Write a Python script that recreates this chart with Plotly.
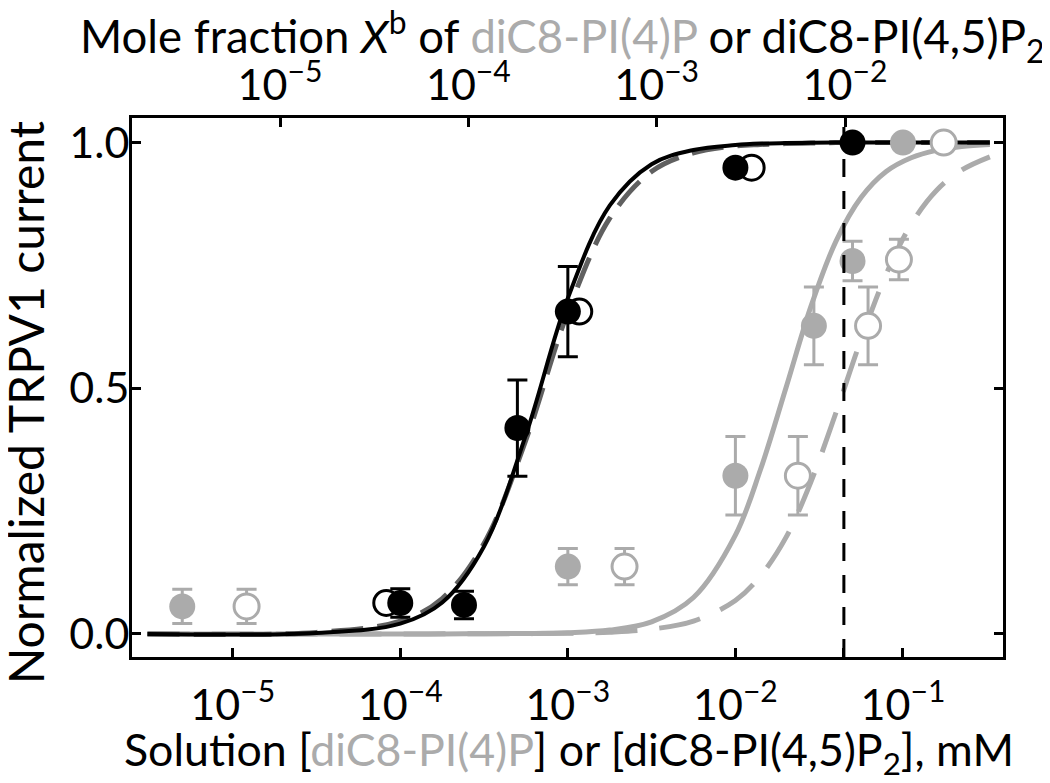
import plotly.graph_objects as go

# fitted curves (solution concentration in mM)
curve_x = [3.1e-6, 3.16e-5, 1e-4, 1.78e-4, 3.16e-4, 5.62e-4, 1e-3, 1.78e-3, 3.16e-3,
           5.62e-3, 1e-2, 1.41e-2, 2e-2, 2.82e-2, 3.98e-2, 5.62e-2, 7.94e-2, 0.112,
           0.158, 0.224, 0.33]
pip2_fit = [0.0, 0.002, 0.021, 0.064, 0.178, 0.405, 0.683, 0.872, 0.956, 0.985, 0.995,
            0.998, 0.999, 0.9995, 1.0, 1.0, 1.0, 1.0, 1.0, 1.0, 1.0]
pip2_fit_mf = [0.0, 0.003, 0.026, 0.072, 0.184, 0.395, 0.655, 0.846, 0.941, 0.979, 0.993,
               0.996, 0.998, 0.999, 1.0, 1.0, 1.0, 1.0, 1.0, 1.0, 1.0]
pi4p_fit = [0.0, 0.0, 0.0, 0.0, 0.0003, 0.0008, 0.0025, 0.0079, 0.0245, 0.074, 0.201,
            0.334, 0.5, 0.666, 0.799, 0.888, 0.941, 0.969, 0.984, 0.992, 0.996]
pi4p_fit_mf = [0.0, 0.0, 0.0, 0.0001, 0.0002, 0.0005, 0.0013, 0.0035, 0.0097, 0.026,
               0.068, 0.118, 0.196, 0.309, 0.45, 0.599, 0.732, 0.834, 0.902, 0.944, 0.971]

# data points
pip2_x = [1e-4, 2.4e-4, 5e-4, 1e-3, 1e-2, 0.05]
pip2_y = [0.063, 0.059, 0.419, 0.656, 0.949, 1.0]
pip2_err = [0.029, 0.028, 0.098, 0.092, 0.0, 0.0]
pip2_open_x = [8.25e-5, 1.17e-3, 1.25e-2]
pip2_open_y = [0.063, 0.656, 0.949]

pi4p_x = [5e-6, 1e-3, 1e-2, 0.0294, 0.05, 0.1]
pi4p_y = [0.056, 0.137, 0.322, 0.627, 0.759, 1.0]
pi4p_err = [0.035, 0.037, 0.08, 0.079, 0.04, 0.0]
pi4p_open_x = [1.21e-5, 2.18e-3, 0.0236, 0.0619, 0.0946, 0.175]
pi4p_open_y = [0.056, 0.137, 0.322, 0.627, 0.762, 1.0]
pi4p_open_err = [0.035, 0.037, 0.08, 0.079, 0.041, 0.0]

bottom_ticks = [1e-5, 1e-4, 1e-3, 1e-2, 1e-1]
bottom_labels = ['10<sup>\u22125</sup>', '10<sup>\u22124</sup>', '10<sup>\u22123</sup>',
                 '10<sup>\u22122</sup>', '10<sup>\u22121</sup>']
top_ticks = [1e-5, 1e-4, 1e-3, 1e-2]
top_labels = bottom_labels[:4]
marker_line_x = 0.0444   # vertical dashed line, mM
y_ticks = [0.0, 0.5, 1.0]
y_labels = ['0.0', '0.5', '1.0']

GRAY = '#ababab'
FONT = 'Lato'

fig = go.Figure()

# curves
fig.add_trace(go.Scatter(x=curve_x, y=pi4p_fit_mf, mode='lines', line_shape='spline',
                         line=dict(color=GRAY, width=5, dash='42px,22px')))
fig.add_trace(go.Scatter(x=curve_x, y=pi4p_fit, mode='lines', line_shape='spline',
                         line=dict(color=GRAY, width=5)))
fig.add_trace(go.Scatter(x=curve_x, y=pip2_fit_mf, mode='lines', line_shape='spline',
                         line=dict(color='#606060', width=5, dash='32px,14px')))
fig.add_trace(go.Scatter(x=curve_x, y=pip2_fit, mode='lines', line_shape='spline',
                         line=dict(color='black', width=4)))

# gray points
fig.add_trace(go.Scatter(
    x=pi4p_open_x, y=pi4p_open_y, mode='markers',
    marker=dict(size=25, color='white', line=dict(color=GRAY, width=3)),
    error_y=dict(type='data', array=pi4p_open_err, color=GRAY, thickness=3, width=10)))
fig.add_trace(go.Scatter(
    x=pi4p_x, y=pi4p_y, mode='markers',
    marker=dict(size=26, color=GRAY),
    error_y=dict(type='data', array=pi4p_err, color=GRAY, thickness=3, width=10)))

# black points
fig.add_trace(go.Scatter(
    x=pip2_open_x, y=pip2_open_y, mode='markers',
    marker=dict(size=25, color='white', line=dict(color='black', width=3))))
fig.add_trace(go.Scatter(
    x=pip2_x, y=pip2_y, mode='markers',
    marker=dict(size=26, color='black'),
    error_y=dict(type='data', array=pip2_err, color='black', thickness=3, width=10)))

# dummy trace so the top axis gets drawn
fig.add_trace(go.Scatter(x=[1e-3], y=[None], xaxis='x2', mode='markers', hoverinfo='skip'))

fig.add_shape(type='line', xref='x', yref='paper', x0=marker_line_x, x1=marker_line_x,
              y0=0, y1=1, line=dict(color='black', width=3, dash='18px,14px'))

axis_font = dict(family=FONT, size=43, color='black')
# page body has an 8px margin, so the figure is shrunk by that much
fig.update_layout(
    width=1042, height=775,
    margin=dict(l=124, r=47, t=110, b=126, autoexpand=False),
    paper_bgcolor='white', plot_bgcolor='white',
    showlegend=False,
    font=dict(family=FONT, color='black'),
    xaxis=dict(type='log', range=[-5.601, -0.403], automargin=False,
               tickvals=bottom_ticks + [marker_line_x], ticktext=bottom_labels + [''],
               ticks='inside', ticklen=9, tickwidth=3, tickcolor='black',
               showline=True, linewidth=3, linecolor='black', mirror=False,
               showgrid=False, zeroline=False, tickfont=axis_font, ticklabelstandoff=8),
    xaxis2=dict(type='log', range=[-5.786, -1.161], overlaying='x', side='top',
                automargin=False,
                tickvals=top_ticks, ticktext=top_labels,
                ticks='inside', ticklen=9, tickwidth=3, tickcolor='black',
                showline=True, linewidth=3, linecolor='black',
                showgrid=False, zeroline=False, tickfont=axis_font, ticklabelstandoff=-2),
    yaxis=dict(range=[-0.047, 1.05], tickvals=y_ticks, ticktext=y_labels, automargin=False,
               ticks='inside', ticklen=9, tickwidth=3, tickcolor='black',
               showline=True, linewidth=3, linecolor='black', mirror='ticks',
               showgrid=False, zeroline=False, tickfont=axis_font, ticklabelstandoff=-9),
)

fig.add_annotation(
    text='Solution [<span style="color:%s">diC8-PI(4)P</span>] or '
         '[diC8-PI(4,5)P<sub>2</sub>], mM' % GRAY,
    xref='paper', yref='paper', x=0.502, y=-0.176, yanchor='middle',
    showarrow=False, font=dict(family=FONT, size=44.7, color='black'))
fig.add_annotation(
    text='Mole fraction <i>X</i><sup>b</sup> of <span style="color:%s">diC8-PI(4)P</span>'
         ' or diC8-PI(4,5)P<sub>2</sub>' % GRAY,
    xref='paper', yref='paper', x=0.494, y=1.152, yanchor='middle',
    showarrow=False, font=dict(family=FONT, size=45.5, color='black'))
fig.add_annotation(
    text='Normalized TRPV1 current', textangle=-90,
    xref='paper', yref='paper', x=-0.122, y=0.472, xanchor='center', yanchor='middle',
    showarrow=False, font=dict(family=FONT, size=48, color='black'))

fig.write_html('out.html')
